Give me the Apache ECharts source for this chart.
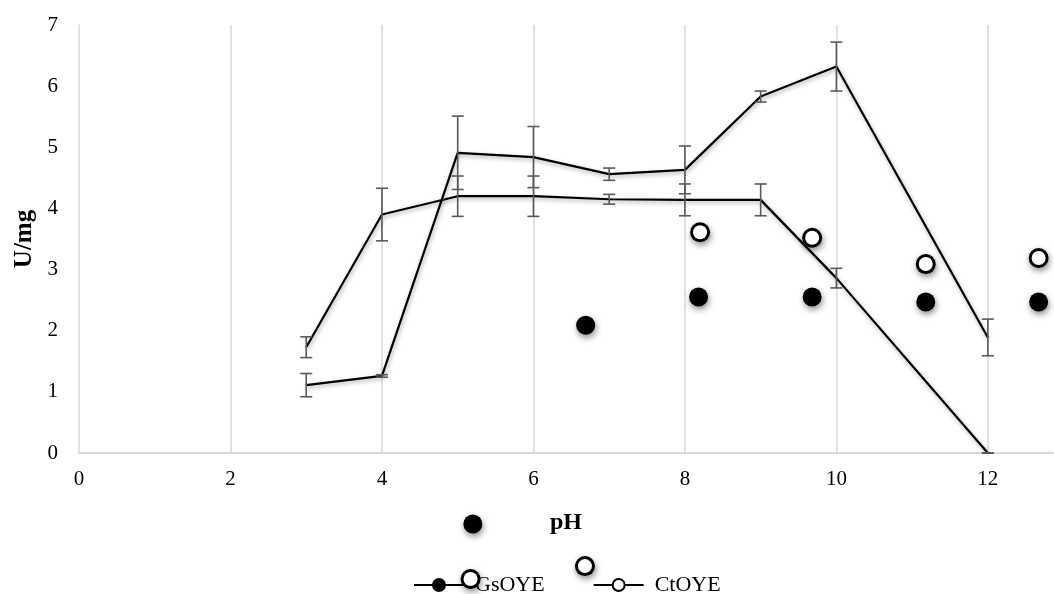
<!DOCTYPE html>
<html>
<head>
<meta charset="utf-8">
<script src="https://cdn.jsdelivr.net/npm/echarts@6/dist/echarts.min.js"></script>
<style>
html,body{margin:0;padding:0;background:#fff;}
#chart{width:1054px;height:594px;}
</style>
</head>
<body>
<div id="chart"></div>
<script>
// ---- data ----
var phValues = [3, 4, 5, 6, 7, 8, 9, 10, 12];
var gsValues = [1.73, 3.90, 4.20, 4.20, 4.15, 4.14, 4.14, 2.86, 0];
var gsErrors = [0.17, 0.43, 0.33, 0.33, 0.08, 0.26, 0.26, 0.16, 0];
var ctValues = [1.11, 1.26, 4.91, 4.84, 4.56, 4.63, 5.83, 6.32, 1.89];
var ctErrors = [0.19, 0.02, 0.60, 0.50, 0.10, 0.39, 0.09, 0.40, 0.30];
// stray markers (as drawn in the original picture)
var gsMarkX = [5.20, 6.69, 8.18, 9.68, 11.18, 12.67];
var gsMarkY = [-1.16, 2.09, 2.55, 2.55, 2.47, 2.47];
var ctMarkX = [5.17, 6.68, 8.20, 9.68, 11.18, 12.67];
var ctMarkY = [-2.06, -1.85, 3.61, 3.52, 3.09, 3.19];
var xTicks = ['0', '2', '4', '6', '8', '10', '12'];
var yTicks = ['0', '1', '2', '3', '4', '5', '6', '7'];

function zip(xs, ys) { return xs.map(function (x, i) { return [x, ys[i]]; }); }
function errData(xs, ys, es) { return xs.map(function (x, i) { return [x, ys[i] - es[i], ys[i] + es[i]]; }); }

var FONT = '"Liberation Serif","Times New Roman",serif';
var lineShadow = { shadowColor: 'rgba(0,0,0,0.35)', shadowBlur: 4, shadowOffsetX: 1, shadowOffsetY: 2 };
var markShadow = { shadowColor: 'rgba(0,0,0,0.45)', shadowBlur: 6, shadowOffsetX: 1, shadowOffsetY: 3 };

function errorBar(params, api) {
  var x = api.value(0);
  var lo = api.coord([x, api.value(1)]);
  var hi = api.coord([x, api.value(2)]);
  var w = 6;
  var st = { stroke: '#595959', lineWidth: 1.6 };
  return {
    type: 'group',
    children: [
      { type: 'line', shape: { x1: lo[0], y1: lo[1], x2: hi[0], y2: hi[1] }, style: st },
      { type: 'line', shape: { x1: lo[0] - w, y1: lo[1], x2: lo[0] + w, y2: lo[1] }, style: st },
      { type: 'line', shape: { x1: hi[0] - w, y1: hi[1], x2: hi[0] + w, y2: hi[1] }, style: st }
    ]
  };
}

var chart = echarts.init(document.getElementById('chart'));
chart.setOption({
  animation: false,
  backgroundColor: '#fff',
  grid: { left: 79, right: 1, top: 25, bottom: 141 },
  xAxis: {
    type: 'value', min: 0, max: 12.86, interval: 2,
    name: 'pH', nameLocation: 'middle', nameGap: 58,
    nameTextStyle: { fontFamily: FONT, fontSize: 24, fontWeight: 'bold', color: '#000' },
    axisLine: { show: true, lineStyle: { color: '#d9d9d9', width: 2 } },
    axisTick: { show: false },
    splitLine: { show: true, showMinLine: false, showMaxLine: false, lineStyle: { color: '#d9d9d9', width: 1.5 } },
    axisLabel: {
      margin: 16, fontFamily: FONT, fontSize: 21, color: '#000',
      showMaxLabel: false,
      formatter: function (v) { var i = xTicks.indexOf(String(v)); return i >= 0 ? xTicks[i] : ''; }
    }
  },
  yAxis: {
    type: 'value', min: 0, max: 7, interval: 1,
    name: 'U/mg', nameLocation: 'middle', nameGap: 42,
    nameTextStyle: { fontFamily: FONT, fontSize: 25, fontWeight: 'bold', color: '#000' },
    axisLine: { show: true, lineStyle: { color: '#d9d9d9', width: 1.5 } },
    axisTick: { show: false },
    splitLine: { show: false },
    axisLabel: {
      margin: 21, fontFamily: FONT, fontSize: 21, color: '#000',
      formatter: function (v) { return yTicks[Math.round(v)]; }
    }
  },
  legend: {
    data: ['GsOYE', 'CtOYE'],
    left: 408, top: 569,
    itemWidth: 50, itemHeight: 15, itemGap: 48,
    textStyle: { fontFamily: FONT, fontSize: 22, color: '#000', padding: [0, 0, 0, 6] }
  },
  series: [
    {
      name: 'GsOYE', type: 'line', data: zip(phValues, gsValues),
      showSymbol: false, symbol: 'circle', symbolSize: 12,
      lineStyle: Object.assign({ color: '#000', width: 2.2 }, lineShadow),
      itemStyle: { color: '#000', borderColor: '#000', borderWidth: 1 },
      z: 3
    },
    {
      name: 'CtOYE', type: 'line', data: zip(phValues, ctValues),
      showSymbol: false, symbol: 'circle', symbolSize: 12,
      lineStyle: Object.assign({ color: '#000', width: 2.2 }, lineShadow),
      itemStyle: { color: '#fff', borderColor: '#000', borderWidth: 2.5 },
      z: 3
    },
    {
      name: 'gsErr', type: 'custom', renderItem: errorBar,
      data: errData(phValues, gsValues, gsErrors), z: 4, silent: true
    },
    {
      name: 'ctErr', type: 'custom', renderItem: errorBar,
      data: errData(phValues, ctValues, ctErrors), z: 4, silent: true
    },
    {
      name: 'gsMarks', type: 'scatter', clip: false, data: zip(gsMarkX, gsMarkY),
      symbol: 'circle', symbolSize: 19,
      itemStyle: Object.assign({ color: '#000', opacity: 1 }, markShadow),
      z: 5
    },
    {
      // outer dark ring of the open markers (casts the shadow)
      name: 'ctMarksRing', type: 'scatter', clip: false, data: zip(ctMarkX, ctMarkY),
      symbol: 'circle', symbolSize: 20,
      itemStyle: Object.assign({ color: '#000', opacity: 1 }, markShadow),
      z: 5
    },
    {
      // white centre of the open markers
      name: 'ctMarksFill', type: 'scatter', clip: false, data: zip(ctMarkX, ctMarkY),
      symbol: 'circle', symbolSize: 14,
      itemStyle: { color: '#fff', opacity: 1 },
      z: 6
    }
  ]
});
</script>
</body>
</html>
